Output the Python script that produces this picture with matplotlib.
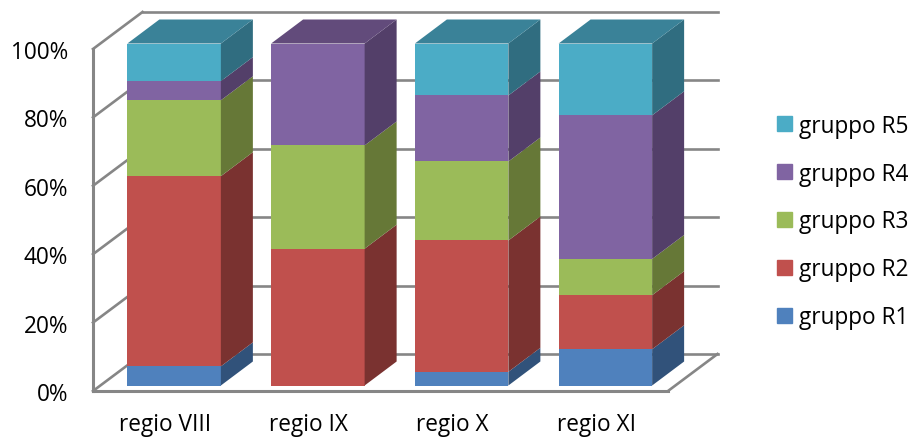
import matplotlib
matplotlib.use("Agg")
import matplotlib.pyplot as plt
from matplotlib.transforms import Affine2D
from matplotlib.patches import Patch

regions = ["regio VIII", "regio IX", "regio X", "regio XI"]
series = ["gruppo R1", "gruppo R2", "gruppo R3", "gruppo R4", "gruppo R5"]
r1 = [5.6, 0, 4.0, 10.6]
r2 = [55.6, 40.0, 38.4, 15.8]
r3 = [22.2, 30.2, 23.1, 10.6]
r4 = [5.6, 29.8, 19.3, 42.0]
r5 = [11.0, 0, 15.2, 21.0]
values = [r1, r2, r3, r4, r5]
yticks = [0, 20, 40, 60, 80, 100]

front_col = ["#4F81BD", "#C0504D", "#9BBB59", "#8064A2", "#4BACC6"]
side_col = ["#31527A", "#7A3230", "#667837", "#533F69", "#306D80"]
top_col = ["#3A6391", "#944040", "#788F45", "#624B7B", "#3A8298"]
grid_col = "#868686"

W, H = 912, 439
fs = 16.3
plt.rcParams["font.family"] = ["Open Sans", "DejaVu Sans"]
fig = plt.figure(figsize=(W / 100, H / 100), dpi=100)
ax = fig.add_axes([93 / W, (H - 392) / H, 575 / W, 342 / H])
ax.set_xlim(-0.5, 3.5)
ax.set_ylim(0, 100)

# depth of the fake 3d, px -> data units
ux = 143.75
uy = 3.42
back = ax.transData + Affine2D().translate(49.5, 37)
front = ax.transData + Affine2D().translate(9.25, 5.5)
wall_dx = 49.5 / ux
wall_dy = 37 / uy
bar_dx = 32 / ux
bar_dy = 24 / uy
bw = 93.5 / ux

# walls
for v in yticks:
    ax.plot([-0.5, 3.5], [v, v], color=grid_col, lw=1.9, transform=back, zorder=1, clip_on=False)
    ax.plot([-0.5, -0.5 + wall_dx], [v, v + wall_dy], color=grid_col, lw=1.9, zorder=1, clip_on=False)
ax.plot([3.5, 3.5 + wall_dx], [0, wall_dy], color=grid_col, lw=1.9, zorder=1, clip_on=False)

# bars
for i in range(len(regions)):
    base = 0
    for s in range(len(series)):
        v = values[s][i]
        if v == 0:
            continue
        x0 = i - bw / 2
        x1 = i + bw / 2
        ax.bar(i, v, bw, bottom=base, color=front_col[s], transform=front, zorder=3, clip_on=False)
        ax.fill([x1, x1 + bar_dx, x1 + bar_dx, x1],
                [base, base + bar_dy, base + v + bar_dy, base + v],
                color=side_col[s], lw=0, transform=front, zorder=3, clip_on=False)
        base += v
        last = s
    ax.fill([x0, x0 + bar_dx, x1 + bar_dx, x1],
            [base, base + bar_dy, base + bar_dy, base],
            color=top_col[last], lw=0, transform=front, zorder=3, clip_on=False)

ax.patch.set_visible(False)
for k in ["top", "right"]:
    ax.spines[k].set_visible(False)
for k in ["left", "bottom"]:
    ax.spines[k].set_color(grid_col)
    ax.spines[k].set_linewidth(2.2)
    ax.spines[k].set_zorder(2)

ax.set_xticks(range(len(regions)))
ax.set_xticklabels(regions)
ax.set_yticks(yticks)
ax.set_yticklabels([str(v) + "%" for v in yticks])
ax.tick_params(axis="x", length=0, pad=15, labelsize=fs, colors="black")
ax.tick_params(axis="y", length=0, pad=18, labelsize=fs, colors="black")

handles = [Patch(color=front_col[s], label=series[s]) for s in range(4, -1, -1)]
fig.legend(handles=handles, loc="center left", bbox_to_anchor=(756.5 / W, 1 - 222.5 / H),
           frameon=False, fontsize=fs, handlelength=0.66, handleheight=0.66,
           handletextpad=0.3, labelspacing=1.055)

fig.savefig("out.png", dpi=100)
